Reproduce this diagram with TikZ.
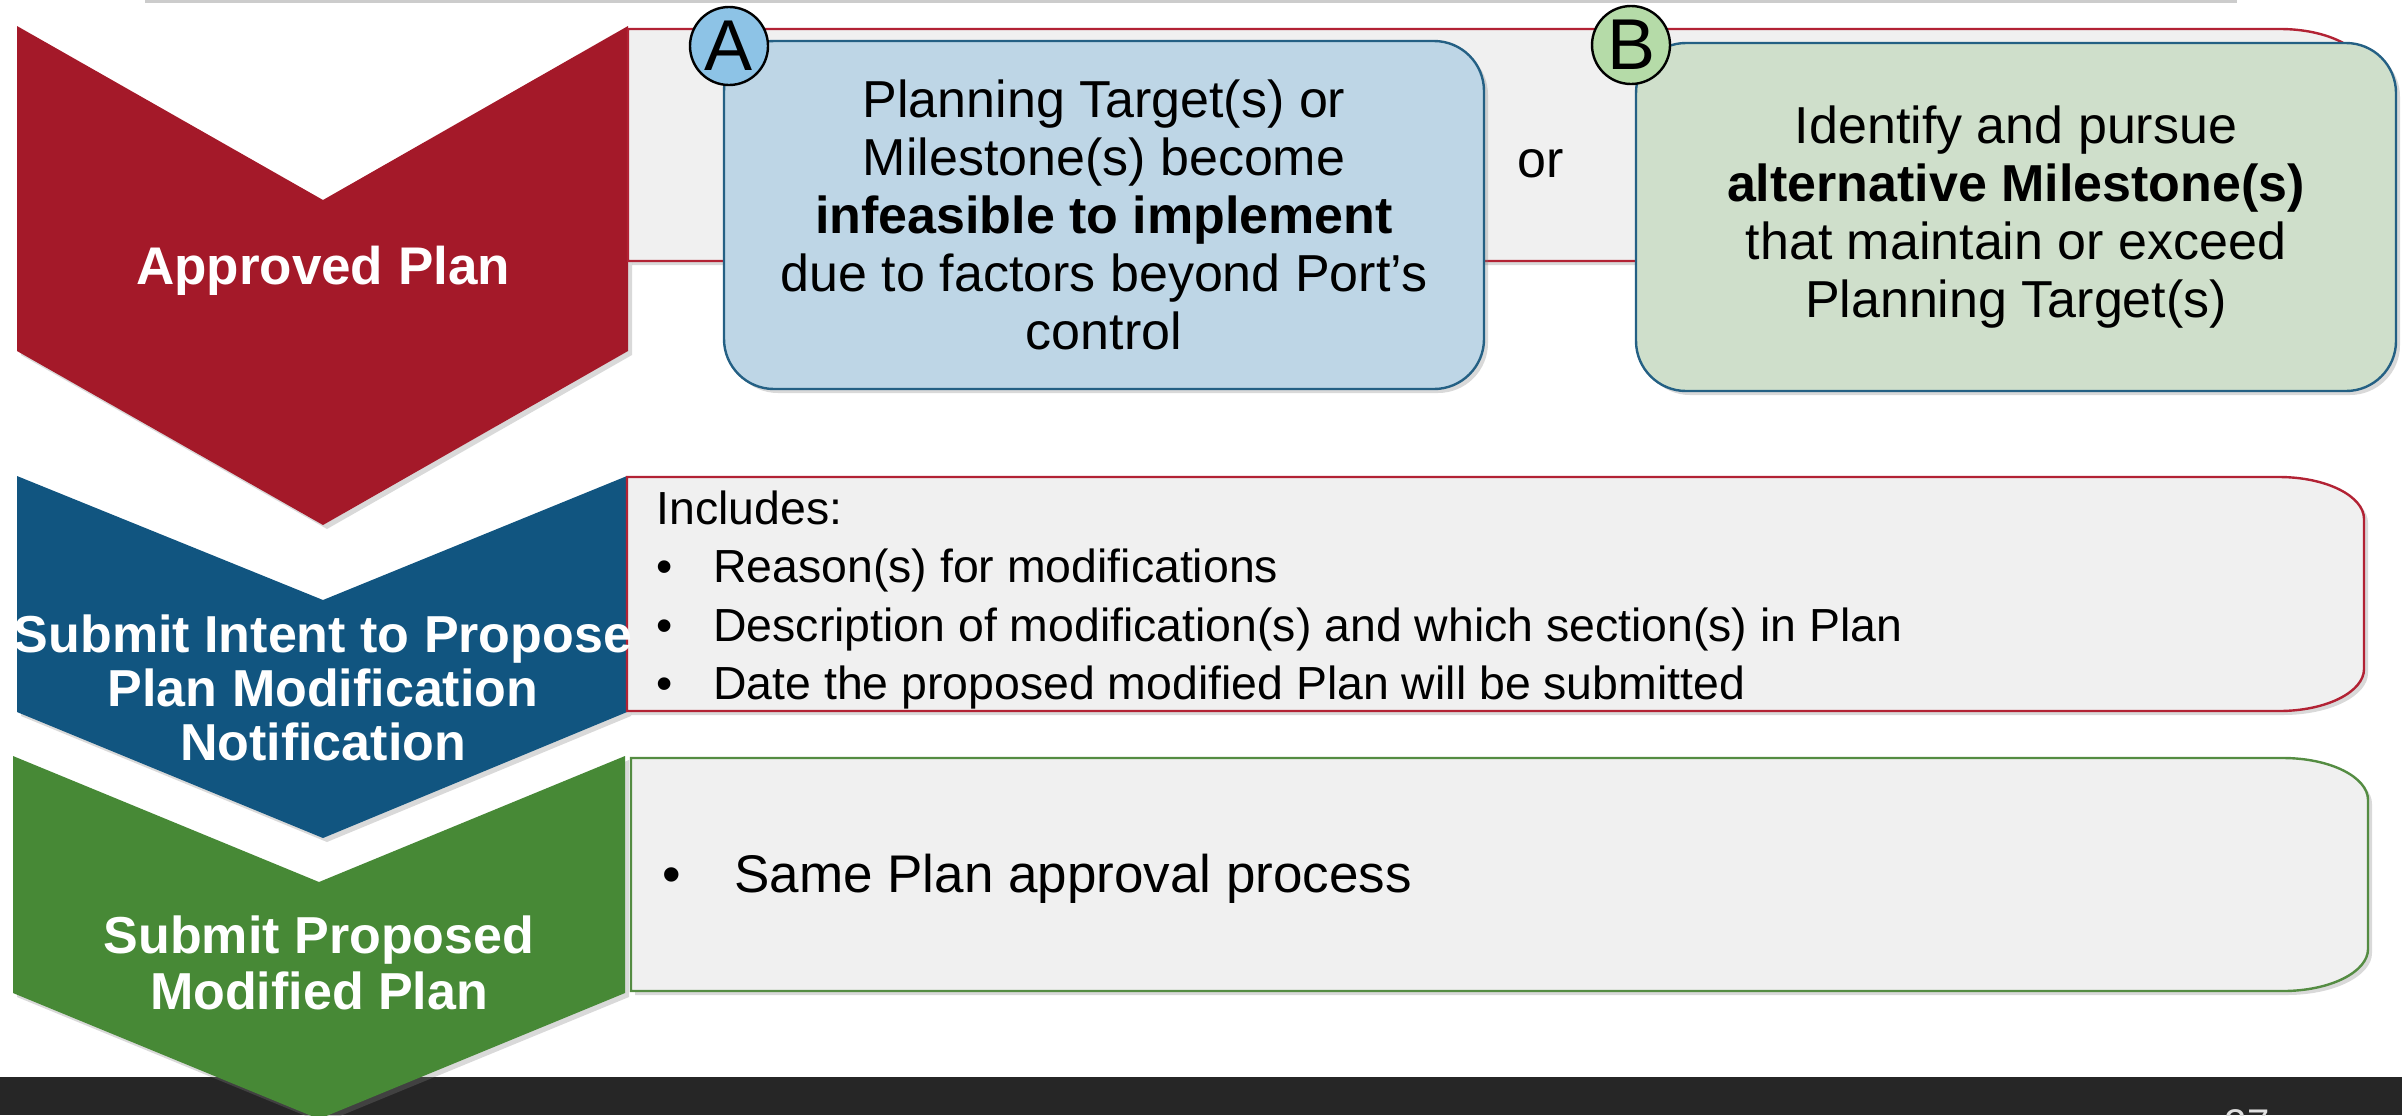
\documentclass[tikz,border=0pt]{standalone}
\usepackage{fontspec}
\setmainfont{Liberation Sans}
\usepackage{tikz}
\usetikzlibrary{shapes,positioning,shadows}
\usepackage{xcolor}
\definecolor{aprred}{RGB}{164,25,41}
\definecolor{intblue}{RGB}{17,85,128}
\definecolor{subgreen}{RGB}{71,137,54}
\definecolor{panelgray}{RGB}{240,240,240}
\definecolor{edgered}{RGB}{178,34,52}
\definecolor{edgegreen}{RGB}{84,140,66}
\definecolor{optblue}{RGB}{190,214,230}
\definecolor{optgreen}{RGB}{207,223,203}
\definecolor{optedge}{RGB}{36,96,132}
\definecolor{tagblue}{RGB}{141,195,230}
\definecolor{taggreen}{RGB}{181,219,168}
\definecolor{footbar}{RGB}{38,38,38}
\tikzstyle{softshadow} = [drop shadow={shadow xshift=2pt, shadow yshift=-2pt, opacity=0.3}]
\tikzstyle{chevtext} = [text=white, font=\fontsize{26}{27}\selectfont\bfseries, align=center, inner sep=0pt]
\tikzstyle{optionbox} = [rectangle, rounded corners=25pt, minimum width=380pt, minimum height=174pt, text centered, align=center, draw=optedge, line width=1.2pt, font=\fontsize{26}{29}\selectfont, softshadow]
\tikzstyle{tagcircle} = [circle, draw=black, line width=1.2pt, minimum size=39pt, inner sep=0pt, font=\fontsize{36}{36}\selectfont]
\tikzstyle{panel} = [fill=panelgray, line width=1.2pt, softshadow]
\tikzstyle{listtext} = [anchor=west, align=left, inner sep=0pt]

\begin{document}
\begin{tikzpicture}[x=0.5pt, y=-0.5pt]
\useasboundingbox (0,0) rectangle (2402,1115);
\draw[black!20, line width=1.5pt] (145,1.5) -- (2237,1.5);

% Approved Plan row
\fill[aprred, softshadow] (17,26) -- (323,200) -- (628,26) -- (628,351) -- (323,525) -- (17,351) -- cycle;
\draw[panel, draw=edgered] (628,29) -- (2280,29) .. controls (2327,29) and (2365,48) .. (2365,71) -- (2365,219) .. controls (2365,242) and (2327,261) .. (2280,261) -- (628,261) -- cycle;
\node[chevtext, font=\fontsize{26.5}{28}\selectfont\bfseries] (apprtext) at (323,271) {Approved Plan};

\node[optionbox, fill=optblue] (optA) at (1104,215) {Planning Target(s) or\\Milestone(s) become\\\textbf{infeasible to implement}\\due to factors beyond Port’s\\control};
\node[font=\fontsize{26}{29}\selectfont] (orlabel) at (1541,164) {or};
\node[optionbox, fill=optgreen] (optB) at (2016,217) {Identify and pursue\\\textbf{alternative Milestone(s)}\\that maintain or exceed\\Planning Target(s)};
\node[tagcircle, fill=tagblue] (tagA) at (729,46) {A};
\node[tagcircle, fill=taggreen] (tagB) at (1631,45) {B};

% Intent row
\fill[intblue, softshadow] (17,476) -- (323,600) -- (627,476) -- (627,712) -- (323,838) -- (17,712) -- cycle;
\draw[panel, draw=edgered] (627,477) -- (2279,477) .. controls (2326,477) and (2364,496) .. (2364,519) -- (2364,669) .. controls (2364,692) and (2326,711) .. (2279,711) -- (627,711) -- cycle;
\node[chevtext] (intenttext) at (323,688) {Submit Intent to Propose\\Plan Modification\\Notification};
\node[listtext, font=\fontsize{23.2}{29.3}\selectfont] (inclist) at (656,600) {Includes:\\
\makebox[28.5pt][l]{\textbullet}Reason(s) for modifications\\
\makebox[28.5pt][l]{\textbullet}Description of modification(s) and which section(s) in Plan\\
\makebox[28.5pt][l]{\textbullet}Date the proposed modified Plan will be submitted};

% footer bar
\fill[footbar] (0,1077) rectangle (2402,1115);
\begin{scope}
\clip (0,0) rectangle (2402,1115);
\node[anchor=north, inner sep=0pt, text=black!12, font=\fontsize{20}{20}\selectfont] (pagenum) at (2247,1109) {27};
\end{scope}

% Modified plan row
\fill[subgreen, softshadow] (13,756) -- (319,882) -- (625,756) -- (625,993) -- (319,1119) -- (13,993) -- cycle;
\draw[panel, draw=edgegreen] (631,758) -- (2283,758) .. controls (2330,758) and (2368,777) .. (2368,800) -- (2368,949) .. controls (2368,972) and (2330,991) .. (2283,991) -- (631,991) -- cycle;
\node[chevtext, font=\fontsize{26}{28}\selectfont\bfseries] (submittext) at (319,963) {Submit Proposed\\Modified Plan};
\node[listtext, font=\fontsize{26.5}{29}\selectfont] (samelist) at (662,879) {\makebox[36pt][l]{\textbullet}Same Plan approval process};
\end{tikzpicture}
\end{document}
